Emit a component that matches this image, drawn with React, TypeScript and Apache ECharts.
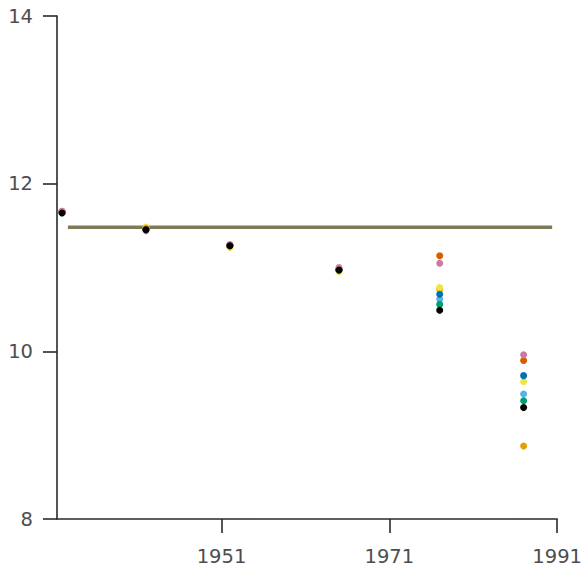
import React, { useEffect, useRef } from "react";
import * as echarts from "echarts";

// Survey years on the x axis
const years = [1932, 1942, 1952, 1965, 1977, 1987];

// One series per group, Okabe-Ito colours
const seriesNames = ["orange", "skyblue", "green", "yellow", "blue", "vermillion", "purple", "black"];
const seriesColors = ["#E69F00", "#56B4E9", "#009E73", "#F0E442", "#0072B2", "#D55E00", "#CC79A7", "#000000"];
const seriesValues: number[][] = [
  [11.66, 11.48, 11.26, 10.97, 10.74, 8.87],
  [11.66, 11.46, 11.26, 10.97, 10.62, 9.49],
  [11.66, 11.46, 11.26, 10.97, 10.56, 9.41],
  [11.66, 11.48, 11.24, 10.95, 10.76, 9.64],
  [11.66, 11.46, 11.26, 10.97, 10.68, 9.71],
  [11.67, 11.46, 11.27, 10.98, 11.14, 9.89],
  [11.67, 11.44, 11.27, 11.0, 11.05, 9.96],
  [11.65, 11.45, 11.26, 10.97, 10.49, 9.33],
];

// Reference level drawn across the plot
const refLineX = [1932.7, 1990.4];
const refLineY = [11.48, 11.48];

// Axis ticks
const xTicks = [1951, 1971, 1991];
const yTicks = [8, 10, 12, 14];

export default function App() {
  const ref = useRef<HTMLDivElement>(null);

  useEffect(() => {
    if (!ref.current) return;
    const chart = echarts.init(ref.current, undefined, { renderer: "svg" });
    const axisLineStyle = { color: "#2a2a2a", width: 1.6 };
    const labelStyle = { color: "#4d4d4d", fontSize: 19.5, fontFamily: "DejaVu Sans" };

    const scatter = seriesNames.map((name, i) => ({
      name,
      type: "scatter",
      symbol: "circle",
      symbolSize: 7,
      itemStyle: { color: seriesColors[i], opacity: 1 },
      data: years.map((y, j) => [y, seriesValues[i][j]]),
      z: 3,
    }));

    chart.setOption({
      animation: false,
      backgroundColor: "#ffffff",
      grid: { left: 57, top: 16, right: 26, bottom: 50 },
      xAxis: {
        type: "value",
        min: 1931.4,
        max: 1991,
        splitLine: { show: false },
        axisLine: { show: true, lineStyle: axisLineStyle },
        axisTick: { show: true, length: 14, customValues: xTicks, lineStyle: axisLineStyle },
        axisLabel: { ...labelStyle, margin: 27, customValues: xTicks, formatter: (v: number) => String(v) },
      },
      yAxis: {
        type: "value",
        min: 8,
        max: 14,
        interval: 2,
        splitLine: { show: false },
        axisLine: { show: true, lineStyle: axisLineStyle },
        axisTick: { show: true, length: 14, customValues: yTicks, lineStyle: axisLineStyle },
        axisLabel: { ...labelStyle, margin: 24, customValues: yTicks },
      },
      series: [
        {
          type: "line",
          data: refLineX.map((x, i) => [x, refLineY[i]]),
          symbol: "none",
          lineStyle: { color: "#7f7a58", width: 3.5 },
          z: 2,
        },
        ...scatter,
      ],
    });
    return () => chart.dispose();
  }, []);

  return (
    <div
      ref={ref}
      style={{ position: "absolute", left: 0, top: 0, width: 585, height: 569 }}
    />
  );
}
